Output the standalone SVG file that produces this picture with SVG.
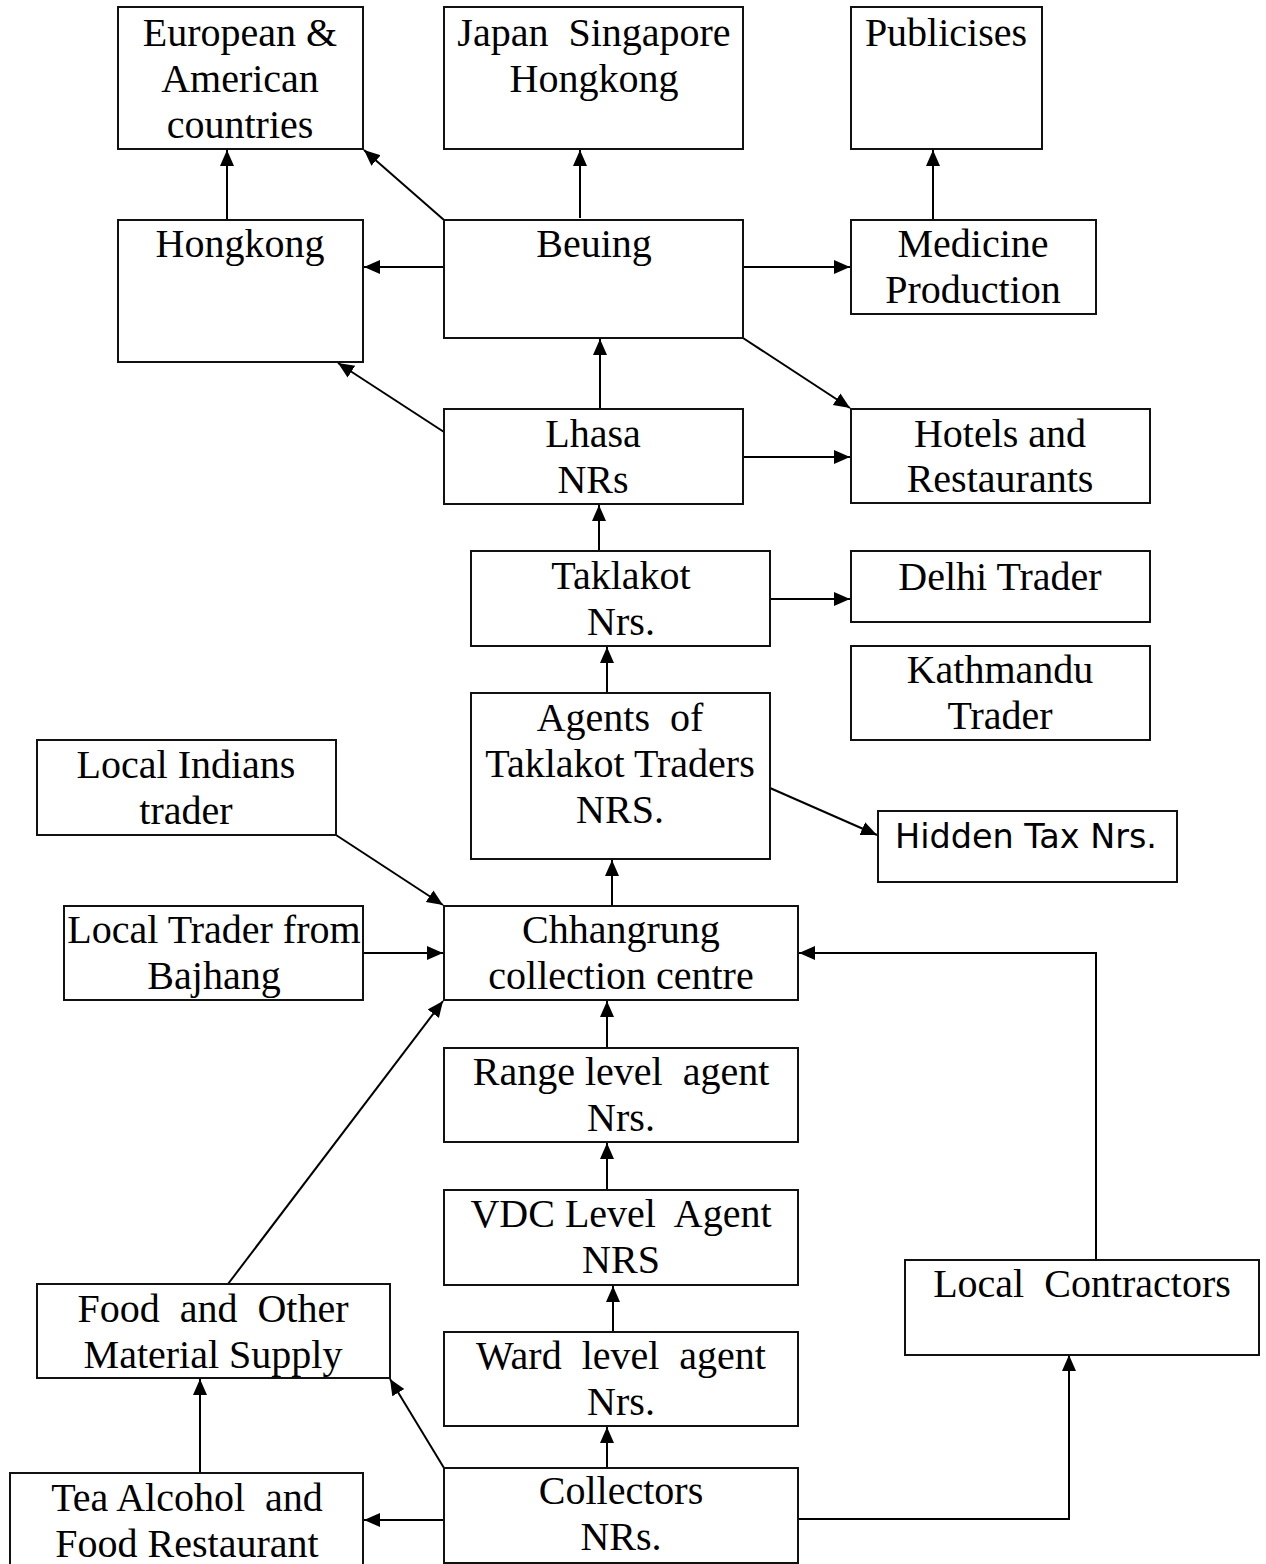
<svg xmlns="http://www.w3.org/2000/svg" width="1266" height="1564" viewBox="0 0 1266 1564">
<style>
.box{fill:#fff;stroke:#111;stroke-width:2}
.t{font-family:"Liberation Serif","Times New Roman",serif;font-size:40px;fill:#000;text-anchor:middle;white-space:pre}
.s{font-family:"DejaVu Sans",Tahoma,sans-serif;font-size:34px;fill:#000;text-anchor:middle}
.c{fill:none;stroke:#000;stroke-width:2}
</style>
<defs><marker id="ah" markerUnits="userSpaceOnUse" markerWidth="18" markerHeight="16" refX="16" refY="7" orient="auto"><path d="M0,0 L16,7 L0,14 z" fill="#000"/></marker></defs>
<rect width="1266" height="1564" fill="#fff"/>
<g id="connectors" class="c" marker-end="url(#ah)">
<line x1="227" y1="220" x2="227" y2="150"/>
<line x1="444" y1="220" x2="364" y2="150"/>
<line x1="444" y1="267" x2="364" y2="267"/>
<line x1="580" y1="218" x2="580" y2="150"/>
<line x1="743" y1="267" x2="850" y2="267"/>
<line x1="933" y1="220" x2="933" y2="150"/>
<line x1="743" y1="338" x2="850" y2="408"/>
<line x1="600" y1="409" x2="600" y2="339"/>
<line x1="444" y1="432" x2="338" y2="363"/>
<line x1="743" y1="457" x2="850" y2="457"/>
<line x1="599" y1="551" x2="599" y2="505"/>
<line x1="770" y1="599" x2="850" y2="599"/>
<line x1="607" y1="693" x2="607" y2="647"/>
<line x1="770" y1="788" x2="877" y2="835"/>
<line x1="612" y1="906" x2="612" y2="860"/>
<line x1="336" y1="835" x2="443" y2="905"/>
<line x1="363" y1="953" x2="443" y2="953"/>
<line x1="607" y1="1048" x2="607" y2="1001"/>
<line x1="607" y1="1190" x2="607" y2="1143"/>
<line x1="613" y1="1332" x2="613" y2="1286"/>
<line x1="607" y1="1468" x2="607" y2="1427"/>
<line x1="228" y1="1284" x2="443" y2="1001"/>
<line x1="200" y1="1473" x2="200" y2="1379"/>
<line x1="444" y1="1468" x2="390" y2="1379"/>
<line x1="444" y1="1520" x2="364" y2="1520"/>
<polyline points="798,1519 1069,1519 1069,1355"/>
<polyline points="1096,1260 1096,953 799,953"/>
</g>
<g id="n-european"><rect class="box" x="118" y="7" width="245" height="142"/><text class="t" x="240" y="46">European &amp;</text><text class="t" x="240" y="92">American</text><text class="t" x="240" y="138">countries</text></g>
<g id="n-japan"><rect class="box" x="444" y="7" width="299" height="142"/><text class="t" x="594" y="46">Japan  Singapore</text><text class="t" x="594" y="92">Hongkong</text></g>
<g id="n-publicises"><rect class="box" x="851" y="7" width="191" height="142"/><text class="t" x="946" y="46">Publicises</text></g>
<g id="n-hongkong"><rect class="box" x="118" y="220" width="245" height="142"/><text class="t" x="240" y="257">Hongkong</text></g>
<g id="n-beuing"><rect class="box" x="444" y="220" width="299" height="118"/><text class="t" x="594" y="257">Beuing</text></g>
<g id="n-medicine"><rect class="box" x="851" y="220" width="245" height="94"/><text class="t" x="973" y="257">Medicine</text><text class="t" x="973" y="303">Production</text></g>
<g id="n-lhasa"><rect class="box" x="444" y="409" width="299" height="95"/><text class="t" x="593" y="447">Lhasa</text><text class="t" x="593" y="493">NRs</text></g>
<g id="n-hotels"><rect class="box" x="851" y="409" width="299" height="94"/><text class="t" x="1000" y="447">Hotels and</text><text class="t" x="1000" y="492">Restaurants</text></g>
<g id="n-taklakot"><rect class="box" x="471" y="551" width="299" height="95"/><text class="t" x="621" y="589">Taklakot</text><text class="t" x="621" y="635">Nrs.</text></g>
<g id="n-delhi"><rect class="box" x="851" y="551" width="299" height="71"/><text class="t" x="1000" y="590">Delhi Trader</text></g>
<g id="n-kathmandu"><rect class="box" x="851" y="646" width="299" height="94"/><text class="t" x="1000" y="683">Kathmandu</text><text class="t" x="1000" y="729">Trader</text></g>
<g id="n-agents"><rect class="box" x="471" y="693" width="299" height="166"/><text class="t" x="620" y="731">Agents  of</text><text class="t" x="620" y="777">Taklakot Traders</text><text class="t" x="620" y="823">NRS.</text></g>
<g id="n-hidden"><rect class="box" x="878" y="811" width="299" height="71"/><text class="s" x="1026" y="848" textLength="262" lengthAdjust="spacingAndGlyphs">Hidden Tax Nrs.</text></g>
<g id="n-indians"><rect class="box" x="37" y="740" width="299" height="95"/><text class="t" x="186" y="778">Local Indians</text><text class="t" x="186" y="824">trader</text></g>
<g id="n-bajhang"><rect class="box" x="64" y="906" width="299" height="94"/><text class="t" x="214" y="943">Local Trader from</text><text class="t" x="214" y="989">Bajhang</text></g>
<g id="n-chhangrung"><rect class="box" x="444" y="906" width="354" height="94"/><text class="t" x="621" y="943">Chhangrung</text><text class="t" x="621" y="989">collection centre</text></g>
<g id="n-range"><rect class="box" x="444" y="1048" width="354" height="94"/><text class="t" x="621" y="1085">Range level  agent</text><text class="t" x="621" y="1131">Nrs.</text></g>
<g id="n-vdc"><rect class="box" x="444" y="1190" width="354" height="95"/><text class="t" x="621" y="1227">VDC Level  Agent</text><text class="t" x="621" y="1273">NRS</text></g>
<g id="n-contractors"><rect class="box" x="905" y="1260" width="354" height="95"/><text class="t" x="1082" y="1297">Local  Contractors</text></g>
<g id="n-food"><rect class="box" x="37" y="1284" width="353" height="94"/><text class="t" x="213" y="1322">Food  and  Other</text><text class="t" x="213" y="1368">Material Supply</text></g>
<g id="n-ward"><rect class="box" x="444" y="1332" width="354" height="94"/><text class="t" x="621" y="1369">Ward  level  agent</text><text class="t" x="621" y="1415">Nrs.</text></g>
<g id="n-tea"><rect class="box" x="10" y="1473" width="353" height="100"/><text class="t" x="187" y="1511">Tea Alcohol  and</text><text class="t" x="187" y="1557">Food Restaurant</text></g>
<g id="n-collectors"><rect class="box" x="444" y="1468" width="354" height="95"/><text class="t" x="621" y="1504">Collectors</text><text class="t" x="621" y="1550">NRs.</text></g>
</svg>
